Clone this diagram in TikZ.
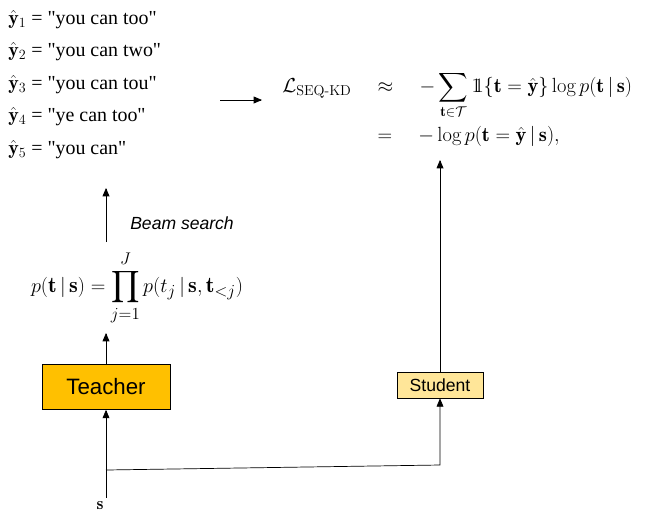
\documentclass[tikz,border=0pt]{standalone}
\usepackage{amsmath,amssymb}
\usepackage{fontspec}
\setsansfont{Liberation Sans}
\newfontfamily\listfont{Liberation Serif}
\usetikzlibrary{arrows,positioning}
\newcommand{\indic}{\mathrm{1\!\!1}}

\begin{document}
\begin{tikzpicture}[x=0.03cm,y=-0.03cm,->,>=triangle 45,semithick]
	\tikzset{modelbox/.style={draw=black,font=\sffamily\fontsize{19}{22}\selectfont,inner sep=0pt},
					 hyp/.style={anchor=west,inner sep=0pt,font=\listfont\fontsize{17}{20}\selectfont},
					 formula/.style={inner sep=0pt,font=\fontsize{17.5}{21}\selectfont}}
	\useasboundingbox (0,0) rectangle (652,523);

	\node[hyp] (y1) at (8,20)  {$\hat{\mathbf{y}}_1$ = "you can too"};
	\node[hyp] (y2) at (8,52)  {$\hat{\mathbf{y}}_2$ = "you can two"};
	\node[hyp] (y3) at (8,85)  {$\hat{\mathbf{y}}_3$ = "you can tou"};
	\node[hyp] (y4) at (8,117) {$\hat{\mathbf{y}}_4$ = "ye can too"};
	\node[hyp] (y5) at (8,150) {$\hat{\mathbf{y}}_5$ = "you can"};

	\node[formula,anchor=west] (loss) at (282,110) {$\begin{aligned}
		\mathcal{L}_{\text{SEQ-KD}} \quad &\approx \quad -\sum_{\mathbf{t}\in\mathcal{T}} \indic\{\mathbf{t}=\hat{\mathbf{y}}\}\log p(\mathbf{t}\,|\,\mathbf{s})\\
		&= \quad -\log p(\mathbf{t}=\hat{\mathbf{y}}\,|\,\mathbf{s}),
	\end{aligned}$};

	\node[formula,font=\fontsize{19}{22}\selectfont] (prob) at (137,288) {$p(\mathbf{t}\,|\,\mathbf{s}) = \displaystyle\prod_{j=1}^{J} p(t_j\,|\,\mathbf{s},\mathbf{t}_{<j})$};
	\node[anchor=west,font=\sffamily\itshape\fontsize{15}{18}\selectfont] (beam) at (126,223) {Beam search};

	\node[modelbox,fill={rgb,255:red,255;green,192;blue,0},minimum width=128*0.03cm,minimum height=45*0.03cm] (teacher) at (106,387) {Teacher};
	\node[modelbox,fill={rgb,255:red,255;green,230;blue,153},font=\sffamily\fontsize{15}{18}\selectfont,minimum width=86*0.03cm,minimum height=26*0.03cm] (student) at (440,385) {Student};
	\node[font=\fontsize{15}{18}\selectfont] (src) at (100,506) {$\mathbf{s}$};

	\coordinate (split) at (106,470);
	\coordinate (turn) at (440,465);
	\coordinate (list) at (106,188);
	\coordinate (beamfoot) at (106,242);
	\coordinate (probtop) at (106,333);
	\coordinate (losstop) at (440,160);

	\draw[-] (src.north -| split) -- (split);
	\draw (split) -- (teacher.south);
	\draw (split) -- (turn) -- (student.south);
	\draw (teacher.north) -- (probtop);
	\draw (beamfoot) -- (list);
	\draw (student.north) -- (losstop);
	\draw (220,100) -- (262,100);
\end{tikzpicture}
\end{document}
